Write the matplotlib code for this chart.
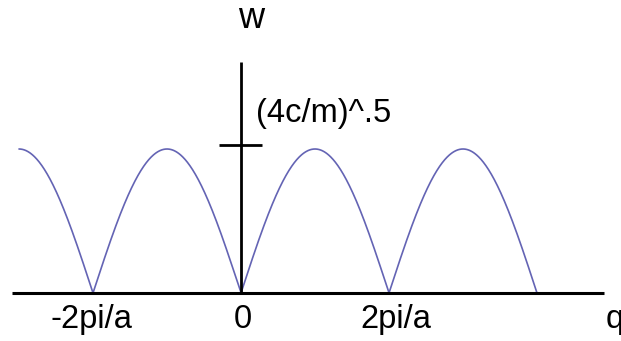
import numpy as np
import matplotlib
matplotlib.use("Agg")
import matplotlib.pyplot as plt

# q in units of pi/a, w in units of (4c/m)^.5
q_start = -3.0
q_end = 4.0
amplitude = 1.0
tick_labels = ["-2pi/a", "0", "2pi/a"]
tick_positions = [-2.0, 0.0, 2.0]

PX = 74.0   # pixels per pi/a
PY = 144.0  # pixels per unit w
X0 = 241.0  # pixel of q=0
Y0 = 293.0  # pixel of w=0

fig = plt.figure(figsize=(6.21, 3.41), dpi=100)
ax = fig.add_axes([0, 0, 1, 1])
ax.set_xlim(-X0 / PX, (621 - X0) / PX)
ax.set_ylim(-(341 - Y0) / PY, Y0 / PY)
ax.axis("off")

q = np.linspace(q_start, q_end, 2000)
w = amplitude * np.abs(np.sin(q * np.pi / 2))
ax.plot(q, w, color="#6464b4", lw=1.2, solid_capstyle="round")

# axes
ax.plot([(12 - X0) / PX, (604 - X0) / PX], [0, 0], color="black", lw=2.2, solid_capstyle="butt")
ax.plot([0, 0], [0, (Y0 - 62) / PY], color="black", lw=2.0, solid_capstyle="butt")
ty = (Y0 - 145) / PY
ax.plot([(219 - X0) / PX, (262 - X0) / PX], [ty, ty], color="black", lw=2.0, solid_capstyle="butt")

fs = 23.5
fam = ["Liberation Sans", "DejaVu Sans"]
xpix = [91.5, 243, 396]
for lab, p, xp in zip(tick_labels, tick_positions, xpix):
    ax.text((xp - X0) / PX, -(328 - Y0) / PY, lab, ha="center", va="baseline", fontsize=fs, family=fam)
ax.text((606 - X0) / PX, -(328 - Y0) / PY, "q", ha="left", va="baseline", fontsize=fs, family=fam)
ax.text((251.5 - X0) / PX, (Y0 - 28) / PY, "w", ha="center", va="baseline", fontsize=26, family=fam)
ax.text((256 - X0) / PX, (Y0 - 122) / PY, "(4c/m)^.5", ha="left", va="baseline", fontsize=fs, family=fam)

fig.savefig("out.png", dpi=100)
